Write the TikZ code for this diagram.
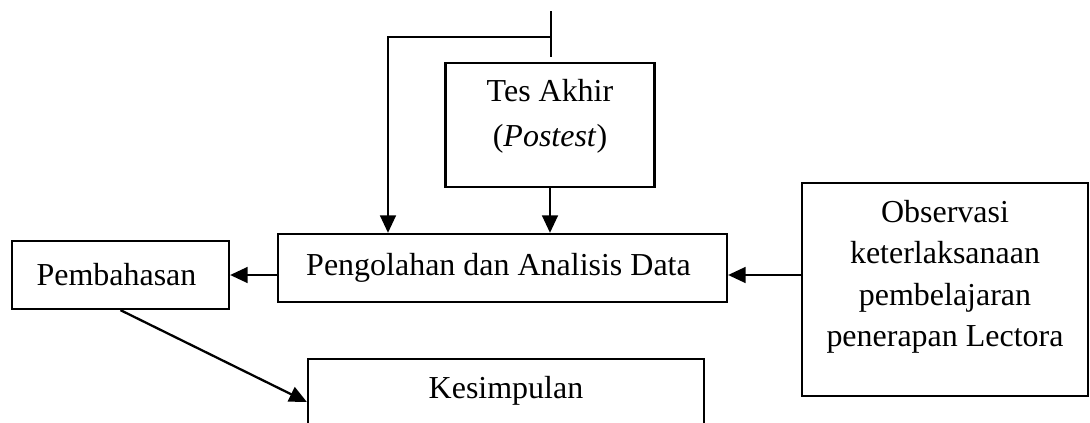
\documentclass[tikz,border=0pt]{standalone}
\usepackage{fontspec}
\setmainfont{Liberation Serif}
\usepackage{tikz}
\usetikzlibrary{arrows.meta,positioning}

\begin{document}
\begin{tikzpicture}[
		x=0.02cm, y=-0.02cm,
		>={Triangle[length=10pt,width=9pt]},
		box/.style={
			draw=black,
			line width=1.3pt,
			fill=white,
			align=center,
			inner sep=0pt,
			font=\fontsize{18.2}{24}\selectfont
		},
		txt/.style={
			align=center,
			inner sep=0pt,
			font=\fontsize{18.2}{24}\selectfont
		},
		arrow/.style={
			->,
			line width=1.3pt,
			draw=black
		},
		wire/.style={
			line width=1.3pt,
			draw=black
		}
	]
	\useasboundingbox (0,0) rectangle (1090,423);
	\clip (0,0) rectangle (1090,423);
	
	% Posttest box
	\node[box, minimum width=4.18cm, minimum height=2.48cm] (tes) at (550,125) {};
	\node[txt, font=\fontsize{18.2}{25.5}\selectfont, below=0.35cm of tes.north] (testext) {%
		Tes Akhir\\
		(\textit{Postest})
	};
	
	% Processing box
	\node[box, minimum width=8.98cm, minimum height=1.36cm] (peng) at (502.5,268) {%
		Pengolahan dan Analisis Data
	};
	
	% Discussion box
	\node[box, minimum width=4.34cm, minimum height=1.36cm] (pem) at (120.5,275) {%
		Pembahasan
	};
	
	% Observation box
	\node[box, minimum width=5.72cm, minimum height=4.26cm] (obs) at (945,289.5) {};
	\node[txt, font=\fontsize{18.2}{23.6}\selectfont, below=0.36cm of obs.north] (obstext) {%
		Observasi\\
		keterlaksanaan\\
		pembelajaran\\
		penerapan Lectora
	};
	
	% Conclusion box (runs off the page)
	\node[box, minimum width=7.92cm, minimum height=1.72cm] (kes) at (506,402) {};
	\node[txt, below=0.36cm of kes.north] (kestext) {Kesimpulan};
	
	% Line from above
	\coordinate (top) at (551,11);
	\coordinate (tend) at (551,57);
	\coordinate (split) at (551,37);
	\coordinate (corner) at (388,37);
	\draw[wire] (top) -- (tend);
	\draw[arrow] (split) -- (corner) -- (corner |- peng.north);
	
	% Arrows into processing
	\draw[arrow] (tes.south) -- (tes.south |- peng.north);
	\draw[arrow] (obs.west |- pem.east) -- (peng.east |- pem.east);
	
	% Arrows out of processing
	\draw[arrow] (peng.west |- pem.east) -- (pem.east);
	\draw[arrow] (pem.south) -- (kes.west);
	
\end{tikzpicture}
\end{document}
